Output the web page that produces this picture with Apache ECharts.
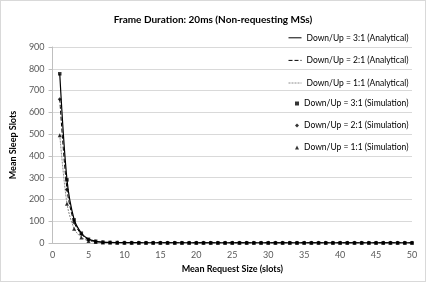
<!DOCTYPE html>
<html>
<head>
<meta charset="utf-8">
<script src="https://cdn.jsdelivr.net/npm/echarts@6/dist/echarts.min.js"></script>
<style>
    html, body { margin: 0; padding: 0; background: #ffffff; }
    #chart {
        width: 426px;
        height: 282px;
        box-sizing: border-box;
        border: 1px solid #d9d9d9;
    }
</style>
</head>
<body>
<div id="chart"></div>
<script>
// mean request size (slots)
var requestSize = [1, 2, 3, 4, 5, 6, 7, 8, 9, 10, 11, 12, 13, 14, 15, 16, 17, 18, 19, 20,
    21, 22, 23, 24, 25, 26, 27, 28, 29, 30, 31, 32, 33, 34, 35, 36, 37, 38, 39, 40,
    41, 42, 43, 44, 45, 46, 47, 48, 49, 50];

// analytical
var ana31 = [777, 292, 108, 46, 18, 8, 4, 2.5, 2, 1.6, 1.4, 1.3, 1.2, 1.2, 1.1, 1.1, 1.1, 1.1, 1, 1,
    1, 1, 1, 1, 1, 1, 1, 1, 1, 1, 1, 1, 1, 1, 1, 1, 1, 1, 1, 1,
    1, 1, 1, 1, 1, 1, 1, 1, 1, 1];
var ana21 = [662, 248, 95, 40, 15, 7, 3.5, 2.2, 1.8, 1.5, 1.3, 1.2, 1.1, 1.1, 1, 1, 1, 1, 1, 1,
    1, 1, 1, 1, 1, 1, 1, 1, 1, 1, 1, 1, 1, 1, 1, 1, 1, 1, 1, 1,
    1, 1, 1, 1, 1, 1, 1, 1, 1, 1];
var ana11 = [497, 182, 66, 26, 10, 4.5, 2.5, 1.8, 1.4, 1.2, 1.1, 1, 1, 1, 1, 1, 1, 1, 1, 1,
    1, 1, 1, 1, 1, 1, 1, 1, 1, 1, 1, 1, 1, 1, 1, 1, 1, 1, 1, 1,
    1, 1, 1, 1, 1, 1, 1, 1, 1, 1];

// simulation
var sim31 = [777, 290, 106, 45, 17, 8, 4, 2.5, 2, 1.6, 1.4, 1.3, 1.2, 1.2, 1.1, 1.1, 1.1, 1.1, 1, 1,
    1, 1, 1, 1, 1, 1, 1, 1, 1, 1, 1, 1, 1, 1, 1, 1, 1, 1, 1, 1,
    1, 1, 1, 1, 1, 1, 1, 1, 1, 1];
var sim21 = [660, 246, 94, 40, 15, 7, 3.5, 2.2, 1.8, 1.5, 1.3, 1.2, 1.1, 1.1, 1, 1, 1, 1, 1, 1,
    1, 1, 1, 1, 1, 1, 1, 1, 1, 1, 1, 1, 1, 1, 1, 1, 1, 1, 1, 1,
    1, 1, 1, 1, 1, 1, 1, 1, 1, 1];
var sim11 = [495, 180, 65, 25, 9, 4.5, 2.5, 1.8, 1.4, 1.2, 1.1, 1, 1, 1, 1, 1, 1, 1, 1, 1,
    1, 1, 1, 1, 1, 1, 1, 1, 1, 1, 1, 1, 1, 1, 1, 1, 1, 1, 1, 1,
    1, 1, 1, 1, 1, 1, 1, 1, 1, 1];

var lineNames = [
    'Down/Up = 3:1 (Analytical)',
    'Down/Up = 2:1 (Analytical)',
    'Down/Up = 1:1 (Analytical)'
];
var simNames = [
    'Down/Up = 3:1 (Simulation)',
    'Down/Up = 2:1 (Simulation)',
    'Down/Up = 1:1 (Simulation)'
];

function pairs(values) {
    return requestSize.map(function (x, i) { return [x, values[i]]; });
}

var font = 'Lato, "Open Sans", sans-serif';
var legendText = { fontSize: 8.5, color: '#000000', fontFamily: font };

var chart = echarts.init(document.getElementById('chart'));
chart.setOption({
    animation: false,
    textStyle: { fontFamily: font },
    title: {
        text: 'Frame Duration: 20ms (Non-requesting MSs)',
        left: 'center',
        top: 9,
        textStyle: { fontSize: 10, fontWeight: 'bold', color: '#000000', fontFamily: font }
    },
    legend: [
        {
            orient: 'vertical',
            left: 287,
            top: 32,
            padding: 0,
            itemWidth: 13,
            itemHeight: 12,
            itemGap: 13,
            lineStyle: { width: 1 },
            itemStyle: { opacity: 0 },
            textStyle: legendText,
            data: lineNames
        },
        {
            orient: 'vertical',
            left: 294,
            top: 98,
            padding: 0,
            itemWidth: 4,
            itemHeight: 12,
            itemGap: 13,
            textStyle: legendText,
            data: simNames.map(function (n, i) {
                return { name: n, icon: ['path://M0,4h4v4h-4z', 'path://M2,4l2,2l-2,2l-2,-2z', 'path://M2,4l2,4h-4z'][i] };
            })
        }
    ],
    grid: { left: 43, right: 13, top: 46, bottom: 38 },
    xAxis: {
        type: 'value',
        min: 0,
        max: 50,
        interval: 5,
        name: 'Mean Request Size (slots)',
        nameLocation: 'middle',
        nameGap: 18,
        nameTextStyle: { fontSize: 9, fontWeight: 'bold', color: '#000000' },
        axisLine: { show: true, lineStyle: { color: '#bfbfbf' } },
        axisTick: { show: false },
        axisLabel: { fontSize: 9, color: '#595959', margin: 8 },
        splitLine: { show: false }
    },
    yAxis: {
        type: 'value',
        min: 0,
        max: 900,
        interval: 100,
        name: 'Mean Sleep Slots',
        nameLocation: 'middle',
        nameGap: 27,
        nameTextStyle: { fontSize: 9, fontWeight: 'bold', color: '#000000' },
        axisLine: { show: true, lineStyle: { color: '#bfbfbf' } },
        axisTick: { show: true, length: 4, lineStyle: { color: '#bfbfbf' } },
        axisLabel: { fontSize: 9, color: '#595959', margin: 8 },
        splitLine: { lineStyle: { color: '#d9d9d9' } }
    },
    series: [
        {
            name: lineNames[0], type: 'line', data: pairs(ana31), smooth: 0.3,
            symbol: 'none', z: 5,
            lineStyle: { color: '#000000', width: 1.2, type: 'solid' },
            itemStyle: { color: '#000000' }
        },
        {
            name: lineNames[1], type: 'line', data: pairs(ana21), smooth: 0.3,
            symbol: 'none', z: 4,
            lineStyle: { color: '#000000', width: 1, type: [4, 2] },
            itemStyle: { color: '#000000' }
        },
        {
            name: lineNames[2], type: 'line', data: pairs(ana11), smooth: 0.3,
            symbol: 'none', z: 3,
            lineStyle: { color: '#8c8c8c', width: 1, type: [2, 1] },
            itemStyle: { color: '#8c8c8c' }
        },
        {
            name: simNames[0], type: 'scatter', data: pairs(sim31),
            symbol: 'rect', symbolSize: 3.5, z: 6,
            itemStyle: { color: '#000000' }
        },
        {
            name: simNames[1], type: 'scatter', data: pairs(sim21),
            symbol: 'diamond', symbolSize: 4, z: 6,
            itemStyle: { color: '#000000' }
        },
        {
            name: simNames[2], type: 'scatter', data: pairs(sim11),
            symbol: 'triangle', symbolSize: 4, z: 6,
            itemStyle: { color: '#000000' }
        }
    ]
});
</script>
</body>
</html>
